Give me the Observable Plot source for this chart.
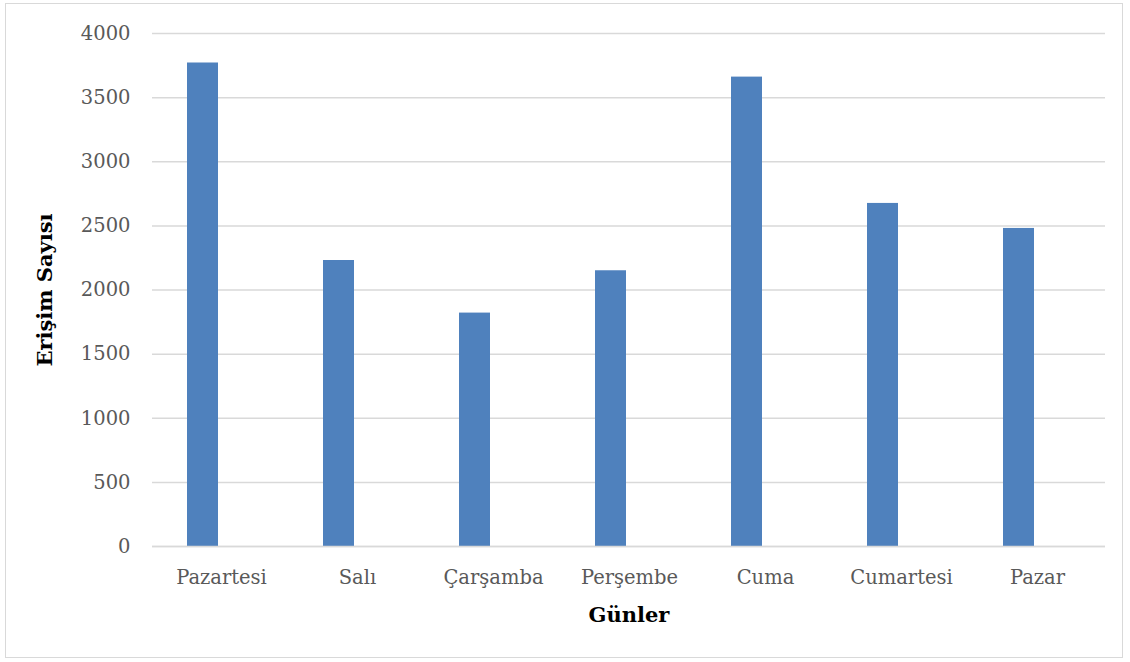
<!DOCTYPE html>
<html><head><meta charset="utf-8">
<script src="https://cdn.jsdelivr.net/npm/d3@7"></script>
<script src="https://cdn.jsdelivr.net/npm/@observablehq/plot@0.6"></script>
<style>
html,body{margin:0;padding:0;background:#fff;}
#wrap{position:relative;width:1130px;height:662px;}
#frame{position:absolute;left:5px;top:3px;width:1118px;height:655px;border:1.5px solid #d9d9d9;box-sizing:border-box;}
#chart{position:absolute;left:0;top:0;}
</style></head>
<body><div id="wrap"><div id="frame"></div><div id="chart"></div></div>
<script>
const days = ["Pazartesi","Salı","Çarşamba","Perşembe","Cuma","Cumartesi","Pazar"];
const counts = [3770, 2230, 1820, 2150, 3660, 2675, 2480];
const yTicks = [0,500,1000,1500,2000,2500,3000,3500,4000];
const xTitle = "Günler";
const yTitle = "Erişim Sayısı";

const data = days.map((d,i)=>({day:d, count:counts[i]}));
const font = "'DejaVu Serif', 'Liberation Serif', serif";

const chart = Plot.plot({
  width:1130, height:662,
  marginLeft:152, marginRight:25, marginTop:33, marginBottom:116,
  style:{fontFamily:font, background:"transparent"},
  x:{type:"band", domain:days, padding:0},
  y:{domain:[0,4000]},
  marks:[
    Plot.gridY(yTicks,{stroke:"#d9d9d9", strokeOpacity:1, strokeWidth:1.5}),
    Plot.barY(data,{x:"day", y:"count", fill:"#4f81bd", insetLeft:34, insetRight:71}),
    Plot.ruleY([0],{stroke:"#d9d9d9", strokeWidth:1.5}),
    Plot.axisY({ticks:yTicks, tickFormat:d=>String(d), tickSize:0, tickPadding:22, label:null, fontSize:19.5, fill:"#595959"}),
    Plot.axisX({tickSize:0, tickPadding:24, label:null, fontSize:19.5, fill:"#595959"}),
    Plot.text([xTitle],{frameAnchor:"bottom", dy:75, fontWeight:"bold", fontSize:21, fill:"#000"}),
    Plot.text([yTitle],{frameAnchor:"left", textAnchor:"middle", dx:-107, rotate:-90, fontWeight:"bold", fontSize:21, fill:"#000"})
  ]
});
document.getElementById("chart").appendChild(chart);
</script></body></html>
